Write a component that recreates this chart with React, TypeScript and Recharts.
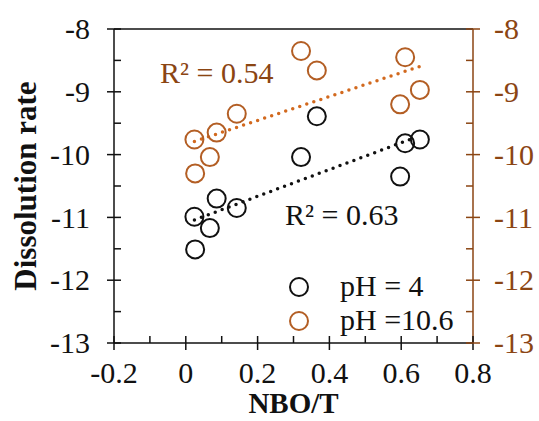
import { ScatterChart, Scatter, XAxis, YAxis, ReferenceLine } from 'recharts';

// pH = 4 (black circles)
const ph4X = [0.024, 0.026, 0.067, 0.086, 0.142, 0.321, 0.365, 0.597, 0.611, 0.652];
const ph4Y = [-10.99, -11.51, -11.17, -10.70, -10.85, -10.04, -9.39, -10.35, -9.82, -9.76];

// pH = 10.6 (orange circles)
const ph106X = [0.024, 0.026, 0.067, 0.086, 0.142, 0.321, 0.365, 0.597, 0.611, 0.652];
const ph106Y = [-9.76, -10.30, -10.04, -9.65, -9.35, -8.35, -8.66, -9.20, -8.45, -8.97];

// linear fits (end points)
const fit4 = [{ x: 0.024, y: -11.04 }, { x: 0.638, y: -9.73 }];
const fit106 = [{ x: 0.024, y: -9.79 }, { x: 0.65, y: -8.6 }];

const xTicks = [-0.2, -0.1, 0, 0.1, 0.2, 0.3, 0.4, 0.5, 0.6, 0.7, 0.8];
const yTicks = [-13, -12.5, -12, -11.5, -11, -10.5, -10, -9.5, -9, -8.5, -8];

const ph4 = ph4X.map((x, i) => ({ x, y: ph4Y[i] }));
const ph106 = ph106X.map((x, i) => ({ x, y: ph106Y[i] }));

const W = 539;
const H = 421;
const LEFT_W = 114;
const RIGHT_W = 66;
const TOP = 29;
const X_H = 78;
const PLOT_L = LEFT_W;
const PLOT_R = W - RIGHT_W;
const PLOT_B = H - X_H;

const FONT = '"Liberation Serif", "Times New Roman", serif';
const BLACK = '#111';
const BROWN = '#8B4513';
const ORANGE_MK = '#B35E24';
const ORANGE_FIT = '#D2691E';

const isMajorY = (v: number) => Number.isInteger(v);
const isMajorX = (v: number) => Math.round(v * 10) % 2 === 0;

const fmtX = (v: number) => {
  const r = Math.round(v * 10) / 10;
  return r === 0 ? '0' : String(r);
};

const LeftTick = (props: any) => {
  const { y, payload } = props;
  const v = payload.value;
  const major = isMajorY(v);
  return (
    <g>
      <line x1={major ? PLOT_L - 7 : PLOT_L} x2={PLOT_L + 7} y1={y} y2={y} stroke={BLACK} strokeWidth={1.5} />
      {major && (
        <text x={PLOT_L - 24} y={y} dy="0.34em" textAnchor="end" fontFamily={FONT} fontSize={30} fill={BLACK}>
          {v}
        </text>
      )}
    </g>
  );
};

const RightTick = (props: any) => {
  const { y, payload } = props;
  const v = payload.value;
  const major = isMajorY(v);
  return (
    <g>
      <line x1={PLOT_R - 7} x2={major ? PLOT_R + 7 : PLOT_R} y1={y} y2={y} stroke={BROWN} strokeWidth={1.5} />
      {major && (
        <text x={PLOT_R + 21} y={y} dy="0.34em" textAnchor="start" fontFamily={FONT} fontSize={30} fill={BROWN}>
          {v}
        </text>
      )}
    </g>
  );
};

const BottomTick = (props: any) => {
  const { x, payload } = props;
  const v = payload.value;
  const major = isMajorX(v);
  return (
    <g>
      <line x1={x} x2={x} y1={PLOT_B - 7} y2={major ? PLOT_B + 7 : PLOT_B} stroke={BLACK} strokeWidth={1.5} />
      {major && (
        <text x={x} y={PLOT_B + 40} textAnchor="middle" fontFamily={FONT} fontSize={30} fill={BLACK}>
          {fmtX(v)}
        </text>
      )}
    </g>
  );
};

const Ring = (color: string) => (props: any) => {
  const { cx, cy } = props;
  return <circle cx={cx} cy={cy} r={9} fill="none" stroke={color} strokeWidth={2} />;
};

const NoShape = () => <g />;

const Annotations = () => (
  <g fontFamily={FONT}>
    <text x={160} y={83} fontSize={30} fill={BROWN}>R² = 0.54</text>
    <text x={285} y={225} fontSize={30} fill={BLACK}>R² = 0.63</text>
    <circle cx={299} cy={287} r={9} fill="none" stroke={BLACK} strokeWidth={2} />
    <text x={340} y={296} fontSize={30} fill={BLACK}>pH = 4</text>
    <circle cx={299} cy={321} r={9} fill="none" stroke={ORANGE_MK} strokeWidth={2} />
    <text x={340} y={330} fontSize={30} fill={BLACK}>pH =10.6</text>
    <text x={(PLOT_L + PLOT_R) / 2} y={413} textAnchor="middle" fontSize={29} fontWeight="bold" fill={BLACK}>NBO/T</text>
    <text
      x={25}
      y={(TOP + PLOT_B) / 2}
      transform={`rotate(-90 25 ${(TOP + PLOT_B) / 2})`}
      dy="0.34em"
      textAnchor="middle"
      fontSize={31}
      fontWeight="bold"
      fill={BLACK}
    >
      Dissolution rate
    </text>
  </g>
);

export default function App() {
  return (
    <div style={{ position: 'absolute', left: 0, top: 0, background: '#fff' }}>
      <ScatterChart width={W} height={H} margin={{ top: TOP, right: 0, bottom: 0, left: 0 }}>
        <XAxis
          type="number"
          dataKey="x"
          domain={[-0.2, 0.8]}
          ticks={xTicks}
          interval={0}
          height={X_H}
          axisLine={{ stroke: BLACK, strokeWidth: 1.5 }}
          tickLine={false}
          tick={<BottomTick />}
          allowDataOverflow
        />
        <YAxis
          yAxisId="left"
          type="number"
          dataKey="y"
          domain={[-13, -8]}
          ticks={yTicks}
          interval={0}
          width={LEFT_W}
          axisLine={{ stroke: BLACK, strokeWidth: 1.5 }}
          tickLine={false}
          tick={<LeftTick />}
          allowDataOverflow
        />
        <YAxis
          yAxisId="right"
          orientation="right"
          type="number"
          dataKey="y"
          domain={[-13, -8]}
          ticks={yTicks}
          interval={0}
          width={RIGHT_W}
          axisLine={{ stroke: BROWN, strokeWidth: 1.5 }}
          tickLine={false}
          tick={<RightTick />}
          allowDataOverflow
        />
        <ReferenceLine yAxisId="left" y={-8} stroke={BLACK} strokeWidth={1.5} />
        <Scatter
          yAxisId="left"
          data={fit106}
          line={{ stroke: ORANGE_FIT, strokeWidth: 3.5, strokeDasharray: '0 7.4', strokeLinecap: 'round' }}
          shape={NoShape}
          isAnimationActive={false}
        />
        <Scatter
          yAxisId="left"
          data={fit4}
          line={{ stroke: BLACK, strokeWidth: 3.5, strokeDasharray: '0 7.4', strokeLinecap: 'round' }}
          shape={NoShape}
          isAnimationActive={false}
        />
        <Scatter yAxisId="left" data={ph4} shape={Ring(BLACK)} isAnimationActive={false} />
        <Scatter yAxisId="left" data={ph106} shape={Ring(ORANGE_MK)} isAnimationActive={false} />
        <Annotations />
      </ScatterChart>
    </div>
  );
}
